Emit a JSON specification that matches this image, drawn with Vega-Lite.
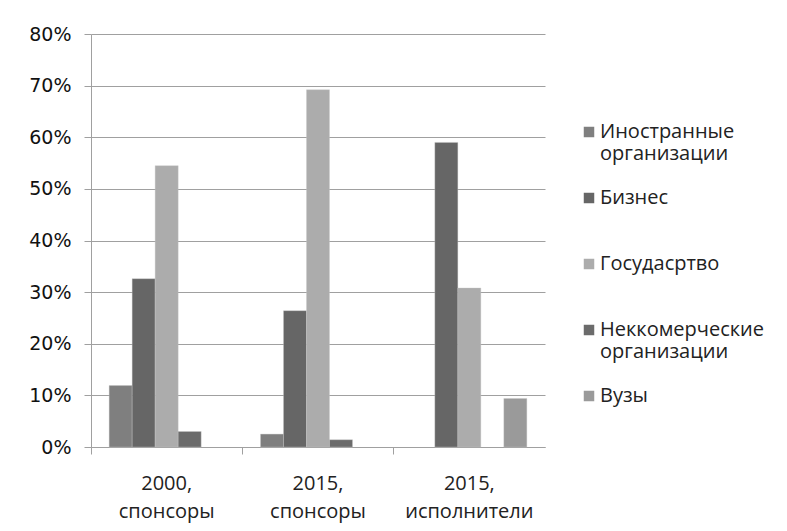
{
  "$schema": "https://vega.github.io/schema/vega-lite/v6.json",
  "width": 454,
  "height": 413,
  "autosize": {"type": "none"},
  "padding": {"left": 91, "top": 34, "right": 242, "bottom": 84},
  "background": "#ffffff",
  "data": {
    "values": [
      {"group": "2000, спонсоры", "series": "Иностранные организации", "value": 0.119},
      {"group": "2000, спонсоры", "series": "Бизнес", "value": 0.326},
      {"group": "2000, спонсоры", "series": "Госудасртво", "value": 0.545},
      {"group": "2000, спонсоры", "series": "Неккомерческие организации", "value": 0.030},
      {"group": "2015, спонсоры", "series": "Иностранные организации", "value": 0.025},
      {"group": "2015, спонсоры", "series": "Бизнес", "value": 0.264},
      {"group": "2015, спонсоры", "series": "Госудасртво", "value": 0.692},
      {"group": "2015, спонсоры", "series": "Неккомерческие организации", "value": 0.014},
      {"group": "2015, исполнители", "series": "Бизнес", "value": 0.590},
      {"group": "2015, исполнители", "series": "Госудасртво", "value": 0.308},
      {"group": "2015, исполнители", "series": "Вузы", "value": 0.094}
    ]
  },
  "mark": {"type": "bar", "stroke": "#c8c8c8", "strokeWidth": 0.6, "strokeOpacity": 0.6},
  "encoding": {
    "x": {
      "field": "group",
      "type": "nominal",
      "sort": ["2000, спонсоры", "2015, спонсоры", "2015, исполнители"],
      "scale": {"paddingInner": 0, "paddingOuter": 0},
      "axis": {
        "title": null,
        "labelAngle": 0,
        "labelExpr": "[split(datum.label, ' ')[0], split(datum.label, ' ')[1]]",
        "labelFont": "Open Sans",
        "labelFontSize": 20,
        "labelColor": "#222222",
        "labelLineHeight": 28,
        "labelPadding": 19,
        "tickSize": 7,
        "tickColor": "#a0a0a0",
        "domainColor": "#a0a0a0",
        "bandPosition": 0,
        "grid": false
      }
    },
    "xOffset": {
      "field": "series",
      "type": "nominal",
      "sort": ["Иностранные организации", "Бизнес", "Госудасртво", "Неккомерческие организации", "Вузы"],
      "scale": {"paddingInner": 0, "paddingOuter": 0.79}
    },
    "y": {
      "field": "value",
      "type": "quantitative",
      "scale": {"domain": [0, 0.8], "nice": false},
      "axis": {
        "title": null,
        "values": [0, 0.1, 0.2, 0.3, 0.4, 0.5, 0.6, 0.7, 0.8],
        "format": ".0%",
        "labelFont": "DejaVu Sans",
        "labelFontSize": 19,
        "labelColor": "#111111",
        "labelPadding": 13,
        "tickSize": 7,
        "tickColor": "#a0a0a0",
        "domainColor": "#a0a0a0",
        "gridColor": "#a0a0a0",
        "gridWidth": 1
      }
    },
    "color": {
      "field": "series",
      "type": "nominal",
      "sort": ["Иностранные организации", "Бизнес", "Госудасртво", "Неккомерческие организации", "Вузы"],
      "scale": {
        "domain": ["Иностранные организации", "Бизнес", "Госудасртво", "Неккомерческие организации", "Вузы"],
        "range": ["#7f7f7f", "#666666", "#acacac", "#6b6b6b", "#9a9a9a"]
      },
      "legend": {
        "title": null,
        "orient": "none",
        "legendX": 488,
        "legendY": 88,
        "symbolType": "square",
        "symbolSize": 110,
        "symbolStrokeWidth": 0,
        "labelExpr": "length(split(datum.label, ' ')) > 1 ? split(datum.label, ' ') : [datum.label, ' ']",
        "labelFont": "Open Sans",
        "labelFontSize": 20,
        "labelColor": "#222222",
        "labelLineHeight": 27,
        "labelBaseline": "middle",
        "labelOffset": 1,
        "rowPadding": 24,
        "labelLimit": 220
      }
    }
  },
  "config": {
    "view": {"stroke": null}
  }
}
